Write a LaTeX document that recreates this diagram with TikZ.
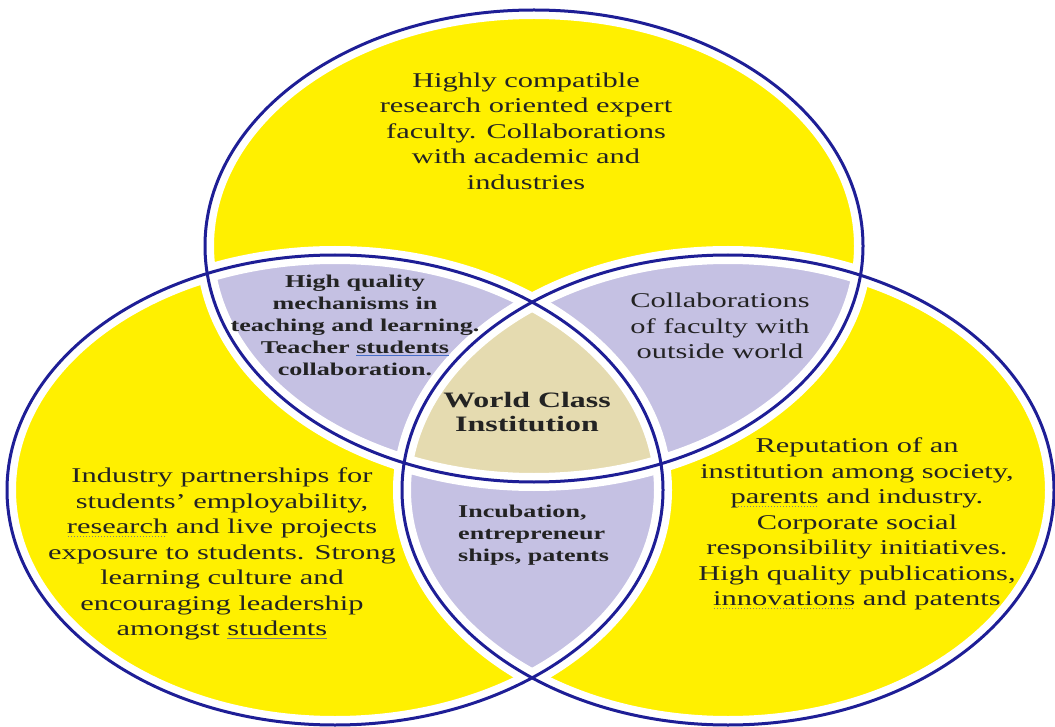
\documentclass[tikz,border=0pt]{standalone}
\usepackage{fontspec}
\setmainfont[FakeStretch=1.45]{Liberation Serif}
\definecolor{vyellow}{RGB}{255,240,0}
\definecolor{vlav}{RGB}{197,193,227}
\definecolor{vtan}{RGB}{229,219,176}
\definecolor{vblue}{RGB}{30,30,150}
\definecolor{vtext}{RGB}{35,35,35}
\definecolor{vul}{RGB}{70,110,200}
\newsavebox\ulbox
\newcommand\solidul[2]{\sbox\ulbox{#2}\rlap{\color{#1}\rule[-0.3ex]{\wd\ulbox}{1pt}}\usebox\ulbox}
\newcommand\spellul[1]{\sbox\ulbox{#1}\rlap{\color{gray}\hbox to \wd\ulbox{\leaders\hbox to 3pt{\hss\rule[-0.35ex]{1.2pt}{1.2pt}\hss}\hfill}}\usebox\ulbox}
\def\Tpath{(534,246) ellipse [x radius=329pt, y radius=236pt]}
\def\Lpath{(335,490) ellipse [x radius=328pt, y radius=235pt]}
\def\Rpath{(728,490) ellipse [x radius=326pt, y radius=235pt]}
% ring as a filled band: centre, rx, ry, half width, style
\newcommand\ringband[5]{\fill[#5, even odd rule] (#1) ellipse [x radius=#2pt+#4pt, y radius=#3pt+#4pt] (#1) ellipse [x radius=#2pt-#4pt, y radius=#3pt-#4pt];}
\tikzset{
  plaintext/.style={font=\fontsize{21}{25.5}\selectfont, text=vtext, align=center, inner sep=0pt},
  boldtext/.style={font=\fontsize{18}{22}\selectfont\bfseries, text=vtext, align=center, inner sep=0pt},
  coretext/.style={font=\fontsize{22}{24}\selectfont\bfseries, text=vtext, align=center, inner sep=0pt},
  gapband/.style={white},
  ringband/.style={vblue}
}
\begin{document}
\begin{tikzpicture}[x=1pt,y=-1pt]
\useasboundingbox (0,0) rectangle (1055,727);
\fill[white] (0,0) rectangle (1055,727);
% region fills
\fill[vyellow] \Tpath;
\fill[vyellow] \Lpath;
\fill[vyellow] \Rpath;
\begin{scope}
  \clip \Tpath;
  \fill[vlav] \Lpath;
  \fill[vlav] \Rpath;
\end{scope}
\begin{scope}
  \clip \Lpath;
  \fill[vlav] \Rpath;
\end{scope}
\begin{scope}
  \clip \Tpath;
  \clip \Lpath;
  \fill[vtan] \Rpath;
\end{scope}
% white margins along the rings
\ringband{534,246}{329}{236}{9}{gapband}
\ringband{335,490}{328}{235}{9}{gapband}
\ringband{728,490}{326}{235}{9}{gapband}
% rings
\ringband{534,246}{329}{236}{1.5}{ringband}
\ringband{335,490}{328}{235}{1.5}{ringband}
\ringband{728,490}{326}{235}{1.5}{ringband}
% texts
\node[plaintext] (top) at (526,131) {Highly compatible\\research oriented expert\\faculty. Collaborations\\with academic and\\industries};
\node[boldtext] (tl) at (355,325) {High quality\\mechanisms in\\teaching and learning.\\Teacher \solidul{vul}{students}\\collaboration.};
\node[plaintext] (tr) at (720,326) {Collaborations\\of faculty with\\outside world};
\node[coretext] (core) at (527,412) {World Class\\Institution};
\node[boldtext, align=left, anchor=west] (bot) at (458,535) {Incubation,\\entrepreneur\\ships, patents};
\node[plaintext] (left) at (222,554) {Industry partnerships for\\students’ employability,\\\spellul{research} and live projects\\exposure to students. Strong\\learning culture and\\encouraging leadership\\amongst \solidul{gray}{students}};
\node[plaintext] (right) at (857,524) {Reputation of an\\institution among society,\\\spellul{parents} and industry.\\Corporate social\\responsibility initiatives.\\High quality publications,\\\spellul{innovations} and patents};
\end{tikzpicture}
\end{document}
